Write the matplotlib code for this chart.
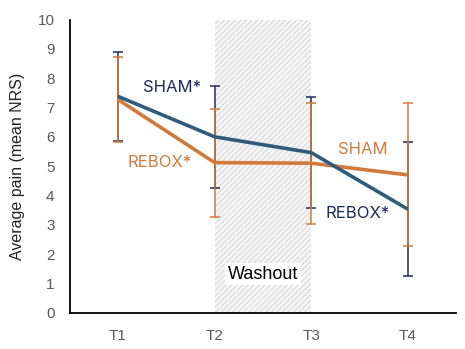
import numpy as np
import matplotlib
matplotlib.use("Agg")
import matplotlib.pyplot as plt

# time points and group means / SDs (NRS)
timepoints = ["T1", "T2", "T3", "T4"]
blue_mean = [7.38, 6.0, 5.46, 3.53]
blue_sd = [1.52, 1.73, 1.9, 2.29]
orange_mean = [7.27, 5.12, 5.1, 4.7]
orange_sd = [1.45, 1.84, 2.07, 2.44]

blue_line = "#2f5c7c"
blue_err = "#1f2a5c"
orange_line = "#d17a3b"

plt.rcParams["font.family"] = ["Liberation Sans", "DejaVu Sans"]
plt.rcParams["hatch.linewidth"] = 0.6

fig = plt.figure(figsize=(4.65, 3.49), dpi=100)
ax = fig.add_axes([0.15, 0.104, 0.831, 0.84])

x = np.arange(len(timepoints))

# washout period between T2 and T3
ax.fill_between([x[1], x[2]], 0, 10, facecolor="#f6f6f6", edgecolor="#cfcfcf",
                hatch="//////", linewidth=0, zorder=0)

ax.errorbar(x, blue_mean, yerr=blue_sd, fmt="none", ecolor=blue_err,
            elinewidth=1.1, capsize=3.5, capthick=1.1, zorder=2)
ax.errorbar(x, orange_mean, yerr=orange_sd, fmt="none", ecolor=orange_line,
            elinewidth=1.1, capsize=3.5, capthick=1.1, zorder=3)
ax.plot(x, orange_mean, color=orange_line, lw=2.6, zorder=4, solid_capstyle="butt")
ax.plot(x, blue_mean, color=blue_line, lw=2.6, zorder=5, solid_capstyle="butt")

lab = dict(fontsize=12, family=["Inter", "DejaVu Sans"], va="center", zorder=6)
ax.text(0.26, 7.67, "SHAM*", color=blue_err, ha="left", **lab)
ax.text(0.1, 5.14, "REBOX*", color=orange_line, ha="left",
        bbox=dict(facecolor="white", edgecolor="none", pad=0.5), **lab)
ax.text(2.28, 5.58, "SHAM", color=orange_line, ha="left",
        bbox=dict(facecolor="white", edgecolor="none", pad=0.5), **lab)
ax.text(2.15, 3.4, "REBOX*", color=blue_err, ha="left",
        bbox=dict(facecolor="white", edgecolor="none", pad=0.5), **lab)
ax.text(1.5, 1.32, "Washout", color="black", ha="center", va="center", fontsize=13,
        bbox=dict(facecolor="white", edgecolor="none", pad=2), zorder=6)

ax.set_xlim(-0.5, 3.5)
ax.set_ylim(0, 10)
ax.set_xticks(x)
ax.set_xticklabels(timepoints)
ax.set_yticks(range(0, 11))
ax.tick_params(length=0, labelsize=11, labelcolor="#595959")
ax.tick_params(axis="y", pad=11)
ax.tick_params(axis="x", pad=12)
ax.set_ylabel("Average pain (mean NRS)", fontsize=11.5, color="#222222", labelpad=9)

for s in ["top", "right"]:
    ax.spines[s].set_visible(False)
ax.spines["left"].set_linewidth(1.3)
ax.spines["bottom"].set_linewidth(1.3)

fig.savefig("out.png", dpi=100)
